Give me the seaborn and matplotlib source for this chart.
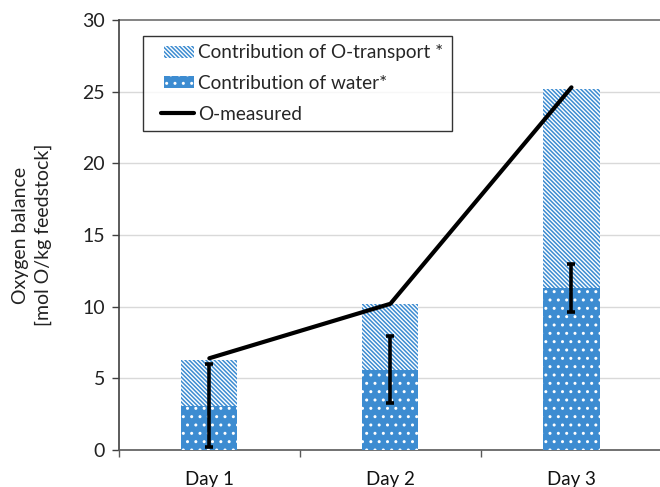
import numpy as np
import pandas as pd
import matplotlib
matplotlib.use("Agg")
import matplotlib.pyplot as plt
import matplotlib.hatch as mhatch
import seaborn as sns
from matplotlib.patches import Patch, Rectangle
from matplotlib.lines import Line2D
from matplotlib.legend_handler import HandlerPatch, HandlerLine2D
from matplotlib.ticker import FixedLocator

# Oxygen balance per sampling day (mol O/kg feedstock)
days = ["Day 1", "Day 2", "Day 3"]
water = [3.1, 5.6, 11.3]          # contribution of water
transport = [3.2, 4.6, 13.9]      # contribution of O-transport (stacked on water)
water_err = [2.9, 2.35, 1.65]     # error on the water contribution
measured = [6.4, 10.2, 25.3]      # O-measured

BLUE = "#3d8cd1"
STRIPES = "\\" * 8
DOTS = ".."

# tiny dots for the dotted fill
mhatch.SmallFilledCircles.size = 0.09

sns.set_theme(style="white")
plt.rcParams["font.family"] = ["Lato", "DejaVu Sans"]
plt.rcParams["hatch.linewidth"] = 1.1

df = pd.DataFrame({
    "day": days,
    "water": water,
    "total": np.array(water) + np.array(transport),
    "measured": measured,
})

fig = plt.figure(figsize=(6.6, 4.87), dpi=100)
ax = fig.add_axes([0.180, 0.076, 0.823, 0.883])

# Stacked bars: full height striped, water part dotted on top
sns.barplot(data=df, x="day", y="total", order=days, width=0.31,
            color="white", ax=ax, saturation=1, zorder=2)
n_total = len(ax.patches)
sns.barplot(data=df, x="day", y="water", order=days, width=0.31,
            color=BLUE, ax=ax, saturation=1, zorder=3)
for i, p in enumerate(ax.patches):
    if i < n_total:
        p.set_facecolor("white")
        p.set_edgecolor(BLUE)
        p.set_hatch(STRIPES)
    else:
        p.set_facecolor(BLUE)
        p.set_edgecolor("white")
        p.set_hatch(DOTS)
    p.set_linewidth(0)

# Error bars on the water contribution
ax.errorbar(np.arange(len(days)), water, yerr=water_err, fmt="none",
            ecolor="black", elinewidth=2.6, capsize=3, capthick=2.6, zorder=5)

# Measured oxygen line
sns.lineplot(data=df, x="day", y="measured", color="black", linewidth=3,
             ax=ax, zorder=6, sort=False)

ax.set_xlim(-0.5, 2.5)
ax.set_ylim(0, 30)
ax.set_yticks(np.arange(0, 31, 5))
ax.set_xlabel("")
ax.set_ylabel("Oxygen balance\n[mol O/kg feedstock]", fontsize=14,
              color="#222222", labelpad=22, linespacing=1.35)

# Grid and axes styling
for y in range(5, 30, 5):
    ax.axhline(y, color="#d9d9d9", linewidth=1, zorder=0)
ax.axhline(30, color="#6e6e6e", linewidth=1.2, zorder=0, clip_on=False)
for side in ["top", "right"]:
    ax.spines[side].set_visible(False)
ax.spines["left"].set_color("#404040")
ax.spines["bottom"].set_color("#595959")
ax.spines["left"].set_linewidth(1.2)
ax.spines["bottom"].set_linewidth(1.2)

ax.tick_params(axis="y", direction="out", length=5, width=1, color="#404040",
               labelsize=14, labelcolor="#222222", left=True, pad=5)
ax.tick_params(axis="x", which="major", length=0, labelsize=13.5,
               labelcolor="#111111", pad=15)
ax.xaxis.set_minor_locator(FixedLocator([-0.5, 0.5, 1.5, 2.5]))
ax.tick_params(axis="x", which="minor", direction="out", length=5, width=1,
               color="#595959", bottom=True)


# Legend keys sit in the right part of the handle box
def right_patch(legend, orig_handle, xdescent, ydescent, width, height, fontsize):
    x0 = -xdescent + width * 0.30
    return Rectangle((x0, -ydescent), width * 0.70, height)


class RightLine(HandlerLine2D):
    def get_xdata(self, legend, xdescent, ydescent, width, height, fontsize):
        xd = np.array([-xdescent + width * 0.25, -xdescent + width])
        return xd, xd


handles = [
    Patch(facecolor="white", edgecolor=BLUE, hatch=STRIPES, linewidth=0,
          label="Contribution of O-transport *"),
    Patch(facecolor=BLUE, edgecolor="white", hatch=DOTS, linewidth=0,
          label="Contribution of water*"),
    Line2D([0], [0], color="black", linewidth=3, label="O-measured"),
]
leg = ax.legend(handles=handles, loc="upper left",
                bbox_to_anchor=(0.044, 0.962), frameon=True, fancybox=False,
                fontsize=13.7, handlelength=2.25, handleheight=0.6,
                handletextpad=0.25, borderpad=0.42, labelspacing=0.72,
                borderaxespad=0,
                handler_map={Patch: HandlerPatch(patch_func=right_patch),
                             Line2D: RightLine()})
leg.get_frame().set_edgecolor("black")
leg.get_frame().set_linewidth(1)

fig.savefig("out.png", dpi=100)
